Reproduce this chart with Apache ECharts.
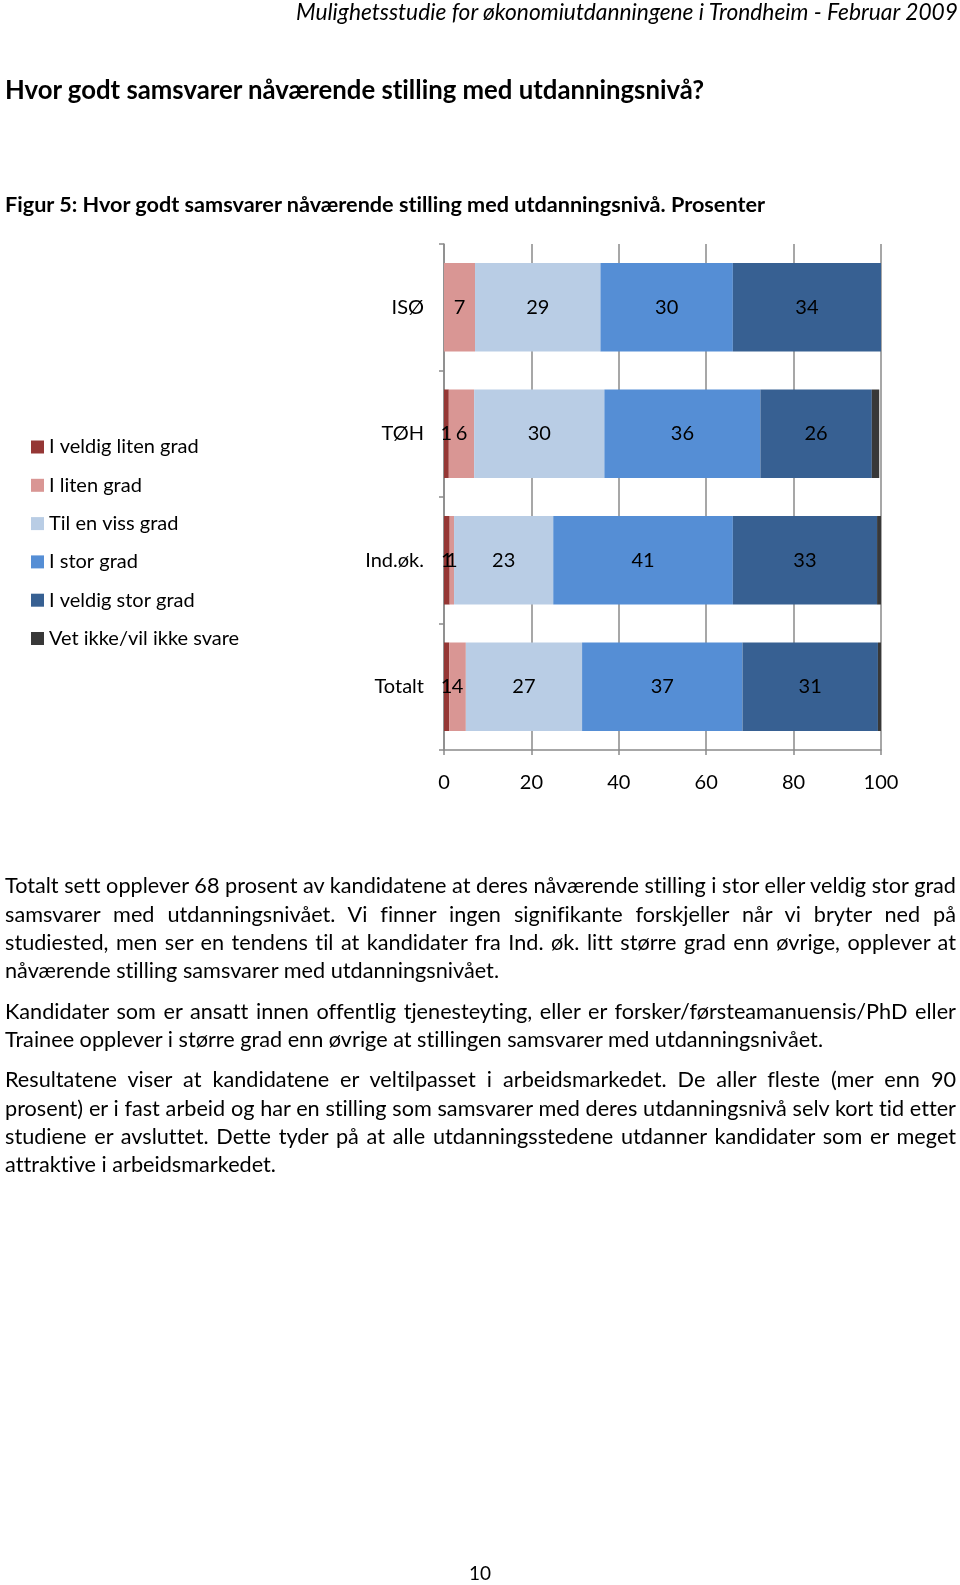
<!DOCTYPE html>
<html><head><meta charset="utf-8">
<script src="https://cdn.jsdelivr.net/npm/echarts@6/dist/echarts.min.js"></script>
<style>
html,body{margin:0;padding:0;background:#fff;}
#page{position:relative;width:960px;height:1585px;overflow:hidden;background:#fff;}
#chart{position:absolute;left:0;top:0;width:960px;height:1585px;}
.t{position:absolute;white-space:nowrap;color:#000;font-family:Lato,'Open Sans',sans-serif;transform-origin:0 50%;font-variant-ligatures:none;font-feature-settings:"liga" 0;}
</style></head>
<body><div id="page"><div id="chart"></div></div>
<script>
// ---- data ----
const categories = ['ISØ', 'TØH', 'Ind.øk.', 'Totalt'];
const seriesNames = ['I veldig liten grad', 'I liten grad', 'Til en viss grad', 'I stor grad', 'I veldig stor grad', 'Vet ikke/vil ikke svare'];
const veldigLiten = [0, 1.1, 1.3, 1.2];
const liten = [7.1, 5.8, 1.0, 3.8];
const vissGrad = [28.7, 29.8, 22.7, 26.6];
const stor = [30.3, 35.7, 41.1, 36.7];
const veldigStor = [33.9, 25.5, 33.0, 31.0];
const vetIkke = [0, 1.7, 0.9, 0.7];
const xTickMin = 0, xTickMax = 100, xTickStep = 20;

// ---- text content ----
const headerText = 'Mulighetsstudie for økonomiutdanningene i Trondheim - Februar 2009';
const titleText = 'Hvor godt samsvarer nåværende stilling med utdanningsnivå?';
const figText = 'Figur 5: Hvor godt samsvarer nåværende stilling med utdanningsnivå. Prosenter';
const paragraphs = [
  ['Totalt sett opplever 68 prosent av kandidatene at deres nåværende stilling i stor eller veldig stor grad',
   'samsvarer med utdanningsnivået. Vi finner ingen signifikante forskjeller når vi bryter ned på',
   'studiested, men ser en tendens til at kandidater fra Ind. øk. litt større grad enn øvrige, opplever at',
   'nåværende stilling samsvarer med utdanningsnivået.'],
  ['Kandidater som er ansatt innen offentlig tjenesteyting, eller er forsker/førsteamanuensis/PhD eller',
   'Trainee opplever i større grad enn øvrige at stillingen samsvarer med utdanningsnivået.'],
  ['Resultatene viser at kandidatene er veltilpasset i arbeidsmarkedet. De aller fleste (mer enn 90',
   'prosent) er i fast arbeid og har en stilling som samsvarer med deres utdanningsnivå selv kort tid etter',
   'studiene er avsluttet. Dette tyder på at alle utdanningsstedene utdanner kandidater som er meget',
   'attraktive i arbeidsmarkedet.']
];
const pageNumber = '10';

// ---- layout for text ----
const page = document.getElementById('page');
function addText(text, cfg) {
  const d = document.createElement('div');
  d.className = 't';
  d.textContent = text;
  d.style.fontSize = cfg.size + 'px';
  d.style.fontWeight = cfg.weight || 'normal';
  d.style.fontStyle = cfg.style || 'normal';
  d.style.lineHeight = cfg.lh + 'px';
  d.style.top = (cfg.cy - cfg.lh / 2) + 'px';
  d.style.left = '0px';
  page.appendChild(d);
  return d;
}
function fitSize(d, base, left, target) {
  const w = d.getBoundingClientRect().width;
  const fs = base * target / w;
  d.style.fontSize = fs + 'px';
  d.style.left = left + 'px';
  const w2 = d.getBoundingClientRect().width;
  d.style.transform = 'scaleX(' + (target / w2) + ')';
}

fitSize(addText(headerText, {size: 18, style: 'italic', lh: 24, cy: 12}), 18, 958 - 662, 662);
fitSize(addText(titleText, {size: 20, weight: 'bold', lh: 28, cy: 89}), 20, 5, 699);
fitSize(addText(figText, {size: 16, weight: 'bold', lh: 22, cy: 204}), 16, 5, 760);

const paraCenters = [[885.2, 913.5, 941.8, 970.0], [1010.5, 1038.8], [1079.2, 1107.5, 1135.8, 1164.1]];
const lastTargets = [494, 818, 271];
const paraLeft = 5, paraWidth = 951;
let ratioSum = 0;
paragraphs.forEach((p, i) => {
  const d = addText(p[p.length - 1], {size: 19, lh: 28, cy: -100});
  ratioSum += lastTargets[i] / d.getBoundingClientRect().width;
  d.remove();
});
let pfs = 19 * ratioSum / paragraphs.length;
pfs = Math.max(17, Math.min(22, pfs));
paragraphs.forEach((p, i) => {
  p.forEach((line, j) => {
    const d = addText(line, {size: pfs, lh: 28, cy: paraCenters[i][j]});
    d.style.left = paraLeft + 'px';
    const w = d.getBoundingClientRect().width;
    if (j < p.length - 1) {
      const gaps = (line.match(/ /g) || []).length;
      if (gaps > 0) d.style.wordSpacing = ((paraWidth - w) / gaps) + 'px';
    } else {
      d.style.transform = 'scaleX(' + (lastTargets[i] / w) + ')';
    }
  });
});
{
  const d = addText(pageNumber, {size: 19, lh: 24, cy: 1573});
  const w = d.getBoundingClientRect().width;
  d.style.left = (480 - w / 2) + 'px';
}

// ---- chart ----
const colors = ['#953735', '#D99694', '#B9CDE5', '#558ED5', '#376092', '#383838'];
const seriesData = [veldigLiten, liten, vissGrad, stor, veldigStor, vetIkke];
const gridColor = '#8a8a8a';
const font = 'Lato';
const chart = echarts.init(document.getElementById('chart'), null, {renderer: 'canvas'});
chart.setOption({
  animation: false,
  backgroundColor: 'transparent',
  legend: {
    orient: 'vertical',
    left: 31,
    top: 437,
    padding: 0,
    itemWidth: 13,
    itemHeight: 13,
    itemGap: 18.3,
    icon: 'rect',
    selectedMode: false,
    textStyle: {fontFamily: font, fontSize: 20, color: '#000', lineHeight: 20},
    data: seriesNames
  },
  grid: {left: 444, right: 79, top: 244, bottom: 835, containLabel: false},
  xAxis: {
    type: 'value', min: xTickMin, max: xTickMax, interval: xTickStep,
    axisLine: {show: true, lineStyle: {color: gridColor, width: 1.5}},
    axisTick: {show: true, length: 5, lineStyle: {color: gridColor, width: 1.5}},
    splitLine: {show: true, lineStyle: {color: gridColor, width: 1.5}},
    axisLabel: {color: '#000', fontFamily: font, fontSize: 20, margin: 23}
  },
  yAxis: {
    type: 'category', inverse: true, data: categories,
    axisLine: {show: true, lineStyle: {color: gridColor, width: 1.5}},
    axisTick: {show: true, length: 5, alignWithLabel: false, interval: 0, lineStyle: {color: gridColor, width: 1.5}},
    axisLabel: {color: '#000', fontFamily: font, fontSize: 20, margin: 20}
  },
  series: seriesNames.map((n, i) => ({
    name: n,
    type: 'bar',
    stack: 'total',
    barCategoryGap: '30%',
    data: seriesData[i],
    itemStyle: {color: colors[i]},
    silent: true,
    emphasis: {disabled: true},
    label: {
      show: i < 5,
      position: 'inside',
      color: '#000',
      fontFamily: font,
      fontSize: 20,
      textBorderWidth: 0,
      formatter: p => (p.value >= 0.5 ? String(Math.round(p.value)) : '')
    }
  }))
});
</script>
</body></html>
